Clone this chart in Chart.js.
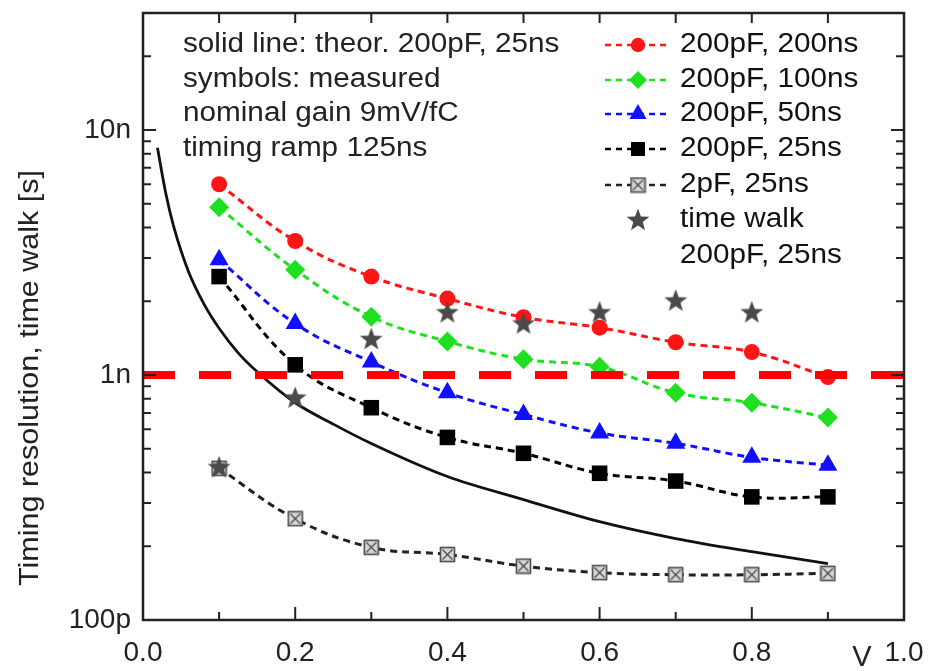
<!DOCTYPE html>
<html>
<head>
<meta charset="utf-8">
<title>Timing resolution vs threshold</title>
<script src="https://cdn.jsdelivr.net/npm/chart.js@4.4.1/dist/chart.umd.min.js"></script>
<style>
  html, body { margin: 0; padding: 0; background: #fff; }
  #chart { display: block; }
</style>
</head>
<body>
<canvas id="chart" width="928" height="671"></canvas>
<script>
// data, resolution in ns
const voltages = [0.1, 0.2, 0.3, 0.4, 0.5, 0.6, 0.7, 0.8, 0.9];
const res200pF200ns = [6.0, 3.52, 2.52, 2.05, 1.72, 1.56, 1.36, 1.24, 0.98];
const res200pF100ns = [4.83, 2.69, 1.73, 1.37, 1.16, 1.08, 0.846, 0.77, 0.67];
const res200pF50ns = [2.95, 1.62, 1.13, 0.846, 0.69, 0.58, 0.526, 0.461, 0.428];
const res200pF25ns = [2.52, 1.10, 0.735, 0.556, 0.479, 0.397, 0.369, 0.318, 0.318];
const res2pF25ns = [0.416, 0.259, 0.198, 0.185, 0.166, 0.156, 0.153, 0.153, 0.155];
const walkVoltages = [0.1, 0.2, 0.3, 0.4, 0.5, 0.6, 0.7, 0.8];
const timeWalk = [0.42, 0.807, 1.40, 1.80, 1.62, 1.80, 2.01, 1.80];
const theoryVoltages = [0.019, 0.03, 0.04, 0.06, 0.08, 0.1, 0.125, 0.15, 0.2, 0.25, 0.3, 0.4, 0.5, 0.6, 0.7, 0.8, 0.9];
const theoryRes = [8.45, 5.5, 4.07, 2.63, 1.95, 1.55, 1.23, 1.03, 0.77, 0.63, 0.525, 0.385, 0.31, 0.252, 0.215, 0.19, 0.17];
const limitX = [0, 1];
const limitRes = [1, 1];

const yTickValues = [0.1, 1, 10];
const yTickLabels = ['100p', '1n', '10n'];
const xTickLabels = ['0.0', '0.2', '0.4', '0.6', '0.8', '1.0'];

const infoLines = ['solid line: theor. 200pF, 25ns', 'symbols: measured', 'nominal gain 9mV/fC', 'timing ramp 125ns'];

const FONT = '"Liberation Sans", Arial, Helvetica, sans-serif';
const TEXT_STRETCH = 1.1;

function pts(xs, ys) {
    return xs.map((x, i) => ({ x: x, y: ys[i] }));
}

// crossed open square used for the 2pF series
function makeCrossBox() {
    const c = document.createElement('canvas');
    c.width = 17; c.height = 17;
    const g = c.getContext('2d');
    g.fillStyle = '#d8d8d8';
    g.fillRect(1.5, 1.5, 14, 14);
    g.strokeStyle = '#4a4a4a';
    g.lineWidth = 1.6;
    g.strokeRect(1.5, 1.5, 14, 14);
    g.lineWidth = 1.3;
    g.beginPath();
    g.moveTo(3.5, 3.5); g.lineTo(13.5, 13.5);
    g.moveTo(13.5, 3.5); g.lineTo(3.5, 13.5);
    g.stroke();
    return c;
}

function makeStar() {
    const c = document.createElement('canvas');
    c.width = 26; c.height = 26;
    const g = c.getContext('2d');
    g.fillStyle = '#4a4a4a';
    g.beginPath();
    for (let i = 0; i < 10; i++) {
        const r = i % 2 === 0 ? 12 : 5;
        const a = -Math.PI / 2 + i * Math.PI / 5;
        const px = 13 + r * Math.cos(a), py = 13.5 + r * Math.sin(a);
        if (i === 0) g.moveTo(px, py); else g.lineTo(px, py);
    }
    g.closePath();
    g.fill();
    return c;
}

const crossBox = makeCrossBox();
const star = makeStar();

const series = [
    { label: '200pF, 200ns', data: res200pF200ns, color: '#ff1515', style: 'circle', radius: 8 },
    { label: '200pF, 100ns', data: res200pF100ns, color: '#1fe01f', style: 'rectRot', radius: 10 },
    { label: '200pF, 50ns', data: res200pF50ns, color: '#1010ff', style: 'triangle', radius: 11 },
    { label: '200pF, 25ns', data: res200pF25ns, color: '#000000', style: 'rect', radius: 11 },
    { label: '2pF, 25ns', data: res2pF25ns, color: '#222222', style: crossBox, radius: 8 }
];

const datasets = [];
datasets.push({
    label: 'limit',
    data: pts(limitX, limitRes),
    borderColor: '#ff0000',
    borderWidth: 8,
    borderDash: [32, 24],
    pointRadius: 0,
    fill: false
});
datasets.push({
    label: 'time walk',
    data: pts(walkVoltages, timeWalk),
    showLine: false,
    pointStyle: star,
    pointRadius: 12
});
series.forEach(s => {
    datasets.push({
        label: s.label,
        data: pts(voltages, s.data),
        borderColor: s.color,
        backgroundColor: s.color,
        borderWidth: 3,
        borderDash: [7, 5],
        tension: 0.4,
        pointStyle: s.style,
        pointRadius: s.radius,
        pointBorderWidth: 0,
        fill: false
    });
});
datasets.push({
    label: 'theory',
    data: pts(theoryVoltages, theoryRes),
    borderColor: '#111',
    borderWidth: 2.8,
    pointRadius: 0,
    cubicInterpolationMode: 'monotone',
    fill: false
});

function stretchedText(ctx, text, x, y) {
    ctx.save();
    ctx.translate(x, y);
    ctx.scale(TEXT_STRETCH, 1);
    ctx.fillText(text, 0, 0);
    ctx.restore();
}

const framePlugin = {
    id: 'frame',
    afterDraw(chart) {
        const ctx = chart.ctx;
        const a = chart.chartArea;
        const xs = chart.scales.x, ys = chart.scales.y;
        ctx.save();
        ctx.strokeStyle = '#222';
        ctx.lineWidth = 2.5;
        ctx.strokeRect(a.left, a.top, a.right - a.left, a.bottom - a.top);

        // inward tick marks
        ctx.lineWidth = 2;
        ctx.beginPath();
        for (let i = 0; i <= 10; i++) {
            const px = xs.getPixelForValue(i / 10);
            const len = i % 2 === 0 ? 13 : 8;
            ctx.moveTo(px, a.bottom); ctx.lineTo(px, a.bottom - len);
            ctx.moveTo(px, a.top); ctx.lineTo(px, a.top + 10);
        }
        for (let e = -1; e <= 1; e++) {
            for (let m = 1; m <= 9; m++) {
                const v = m * Math.pow(10, e);
                if (v < ys.min || v > ys.max) continue;
                const py = ys.getPixelForValue(v);
                const len = m === 1 ? 13 : 8;
                ctx.moveTo(a.left, py); ctx.lineTo(a.left + len, py);
                ctx.moveTo(a.right, py); ctx.lineTo(a.right - len, py);
            }
        }
        ctx.stroke();

        // axis titles
        ctx.fillStyle = '#222';
        ctx.font = '27px ' + FONT;
        ctx.textBaseline = 'middle';
        ctx.textAlign = 'center';
        ctx.save();
        ctx.translate(31, 378);
        ctx.rotate(-Math.PI / 2);
        ctx.scale(1.13, 1);
        ctx.fillText('Timing resolution, time walk [s]', 0, 0);
        ctx.restore();
        ctx.font = '29px ' + FONT;
        ctx.fillText('V', 862, 658);

        // info text block
        ctx.textAlign = 'left';
        ctx.font = '27px ' + FONT;
        const rows = [45, 80, 114, 149, 185, 220, 256];
        infoLines.forEach((t, i) => stretchedText(ctx, t, 183, rows[i]));

        // legend
        series.forEach((s, i) => {
            const y = rows[i];
            ctx.strokeStyle = s.color;
            ctx.lineWidth = 2.5;
            ctx.setLineDash([6, 5]);
            ctx.beginPath();
            ctx.moveTo(605, y); ctx.lineTo(668, y);
            ctx.stroke();
            ctx.setLineDash([]);
            if (typeof s.style === 'string') {
                ctx.fillStyle = s.color;
                Chart.helpers.drawPoint(ctx, { pointStyle: s.style, radius: s.radius * 0.9, rotation: 0, borderWidth: 0 }, 638, y);
            } else {
                ctx.drawImage(s.style, 638 - 8.5, y - 8.5);
            }
            ctx.fillStyle = '#111';
            stretchedText(ctx, s.label, 680, y);
        });
        ctx.drawImage(star, 638 - 13, rows[5] - 13);
        ctx.fillStyle = '#111';
        stretchedText(ctx, 'time walk', 680, rows[5]);
        stretchedText(ctx, '200pF, 25ns', 680, rows[6]);
        ctx.restore();
    }
};

new Chart(document.getElementById('chart'), {
    type: 'line',
    data: { datasets: datasets },
    options: {
        responsive: false,
        animation: false,
        devicePixelRatio: 1,
        layout: { padding: { left: 0, right: 24, top: 9, bottom: 0 } },
        plugins: { legend: { display: false }, tooltip: { enabled: false } },
        scales: {
            x: {
                type: 'linear',
                min: 0,
                max: 1,
                grid: { display: false, drawTicks: false },
                border: { display: false },
                ticks: {
                    stepSize: 0.2,
                    autoSkip: false,
                    maxRotation: 0,
                    padding: 16,
                    color: '#222',
                    font: { family: FONT, size: 28 },
                    callback: (v) => xTickLabels[Math.round(v * 5)] || ''
                },
                afterFit: (s) => { s.height = 51; s.paddingLeft = 0; s.paddingRight = 0; }
            },
            y: {
                type: 'logarithmic',
                min: 0.1,
                max: 30,
                grid: { display: false, drawTicks: false },
                border: { display: false },
                ticks: {
                    autoSkip: false,
                    padding: 12,
                    color: '#222',
                    font: { family: FONT, size: 28 },
                    callback: (v) => {
                        const i = yTickValues.findIndex(t => Math.abs(t - v) < t * 1e-6);
                        return i >= 0 ? yTickLabels[i] : '';
                    }
                },
                afterFit: (s) => { s.width = 143; s.paddingTop = 0; s.paddingBottom = 0; }
            }
        }
    },
    plugins: [framePlugin]
});
</script>
</body>
</html>
